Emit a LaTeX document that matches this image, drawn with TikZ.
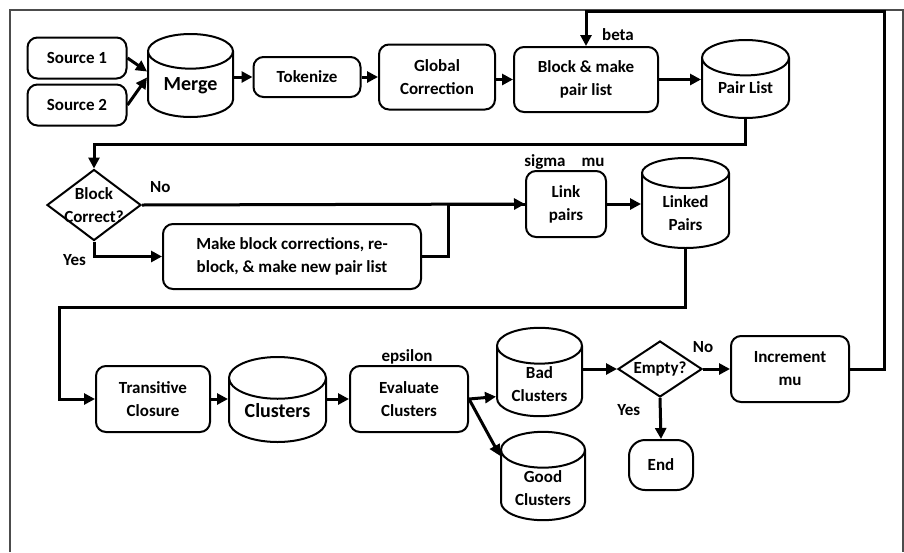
\documentclass[tikz,border=0pt]{standalone}
\usepackage{fontspec}
\setmainfont{Carlito}
\usetikzlibrary{arrows.meta,shapes}

\begin{document}
\begin{tikzpicture}[x=0.5pt,y=-0.5pt,
	every node/.style={font=\bfseries\fontsize{8.5}{11.5}\selectfont,align=center},
	bigtext/.style={font=\bfseries\fontsize{10}{12}\selectfont},
	proc/.style={rectangle,draw,rounded corners=5pt,line width=1pt,inner sep=1pt},
	store/.style={cylinder,shape border rotate=90,aspect=0.6,draw,line width=1pt,inner sep=1pt,anchor=shape center},
	ask/.style={diamond,draw,line width=1pt,inner sep=0pt},
	flow/.style={line width=1.5pt,->,>={Triangle[length=5.5pt,width=5.5pt]}}]
		\useasboundingbox (0,0) rectangle (904,552);
		\draw[black!70,line width=0.6pt] (10,552) -- (10,10) -- (903,10) -- (903,552);

		\node[proc,minimum width=49.5pt,minimum height=20.5pt] (src1) at (77,58) {Source 1};
		\node[proc,minimum width=49.5pt,minimum height=20.5pt] (src2) at (77,105) {Source 2};
		\node[store,bigtext,minimum width=42.5pt,minimum height=41.5pt] (merge) at (190.5,75.5) {\raisebox{3pt}{Merge}};
		\node[proc,minimum width=53.5pt,minimum height=20pt] (tok) at (307,77) {Tokenize};
		\node[proc,minimum width=58pt,minimum height=32.5pt] (glob) at (437,77) {Global\\Correction};
		\node[proc,minimum width=72pt,minimum height=32.5pt] (block) at (586,79.5) {Block \& make\\pair list};
		\node[store,minimum width=43.5pt,minimum height=39pt] (pair) at (745.5,79) {\raisebox{3pt}{Pair List}};
		\node (beta) at (618,35) {beta};

		\node[ask,minimum width=47pt,minimum height=35.5pt,label={center:{Block\\Correct?}}] (bc) at (94,205) {};
		\node[proc,minimum width=129pt,minimum height=32.5pt] (make) at (292,256.5) {Make block corrections, re-\\block, \& make new pair list};
		\node[proc,minimum width=40pt,minimum height=33pt] (link) at (566,204) {Link\\pairs};
		\node (sigma) at (545,162) {sigma};
		\node (mu) at (593,162) {mu};
		\node[store,minimum width=43.5pt,minimum height=45pt] (linked) at (685.5,203) {Linked\\Pairs};

		\node[proc,minimum width=57pt,minimum height=33pt] (tc) at (153,399) {Transitive\\Closure};
		\node[store,bigtext,minimum width=48.5pt,minimum height=42.5pt] (clus) at (277.5,399.5) {\raisebox{3pt}{Clusters}};
		\node[proc,minimum width=59pt,minimum height=33pt] (eval) at (409,399) {Evaluate\\Clusters};
		\node (eps) at (407,357) {epsilon};
		\node[store,minimum width=42.5pt,minimum height=44pt] (bad) at (539.5,372) {Bad\\Clusters};
		\node[store,minimum width=42pt,minimum height=44pt] (good) at (543,476) {Good\\Clusters};
		\node[ask,minimum width=42pt,minimum height=28pt,label={center:Empty?}] (empty) at (660,369) {};
		\node[proc,minimum width=59pt,minimum height=33pt] (incr) at (790,369) {Increment\\mu};
		\node[proc,rounded corners=8pt,minimum width=32pt,minimum height=25pt] (endn) at (661,465) {End};

		\draw[flow] (src1.east) -- ([yshift=2pt]merge.shape center -| merge.west);
		\draw[flow] (src2.east) -- ([yshift=-1pt]merge.shape center -| merge.west);
		\draw[flow] (merge.east |- tok.west) -- (tok.west);
		\draw[flow] (tok.east) -- (glob.west);
		\draw[flow] (glob.east |- block.west) -- (block.west);
		\draw[flow] (block.east) -- (block.east -| pair.west);
		\draw[flow] (pair.south) -- ++(0,25) -| (bc.north);

		\draw[flow] (bc.east) -- (link.west) node[pos=0,above right,yshift=2pt] {No};
		\draw[flow] (bc.south) |- (make.west) node[pos=0.5,left,yshift=-2pt] {Yes};
		\draw[line width=1.5pt] (make.east) -- ++(26,0) |- (link.west);
		\draw[flow] (link.east) -- (link.east -| linked.west);
		\draw[flow] (linked.south) -- ++(0,58) -| ([xshift=-18pt]tc.west) -- (tc.west);

		\draw[flow] (tc.east) -- (tc.east -| clus.west);
		\draw[flow] (clus.east |- eval.west) -- (eval.west);
		\draw[flow] (eval.east) -- (bad.196);
		\draw[flow] (eval.east) -- (good.143);
		\draw[flow] (bad.east |- empty.west) -- (empty.west);
		\draw[flow] (empty.east) -- (incr.west) node[pos=0,above,yshift=4pt] {No};
		\draw[flow] (empty.south) -- (endn.north) node[pos=0.3,left,xshift=-6pt] {Yes};
		\draw[flow] (incr.east) -- ++(34,0) -- ++(0,-358) -| (block.north);
\end{tikzpicture}
\end{document}
